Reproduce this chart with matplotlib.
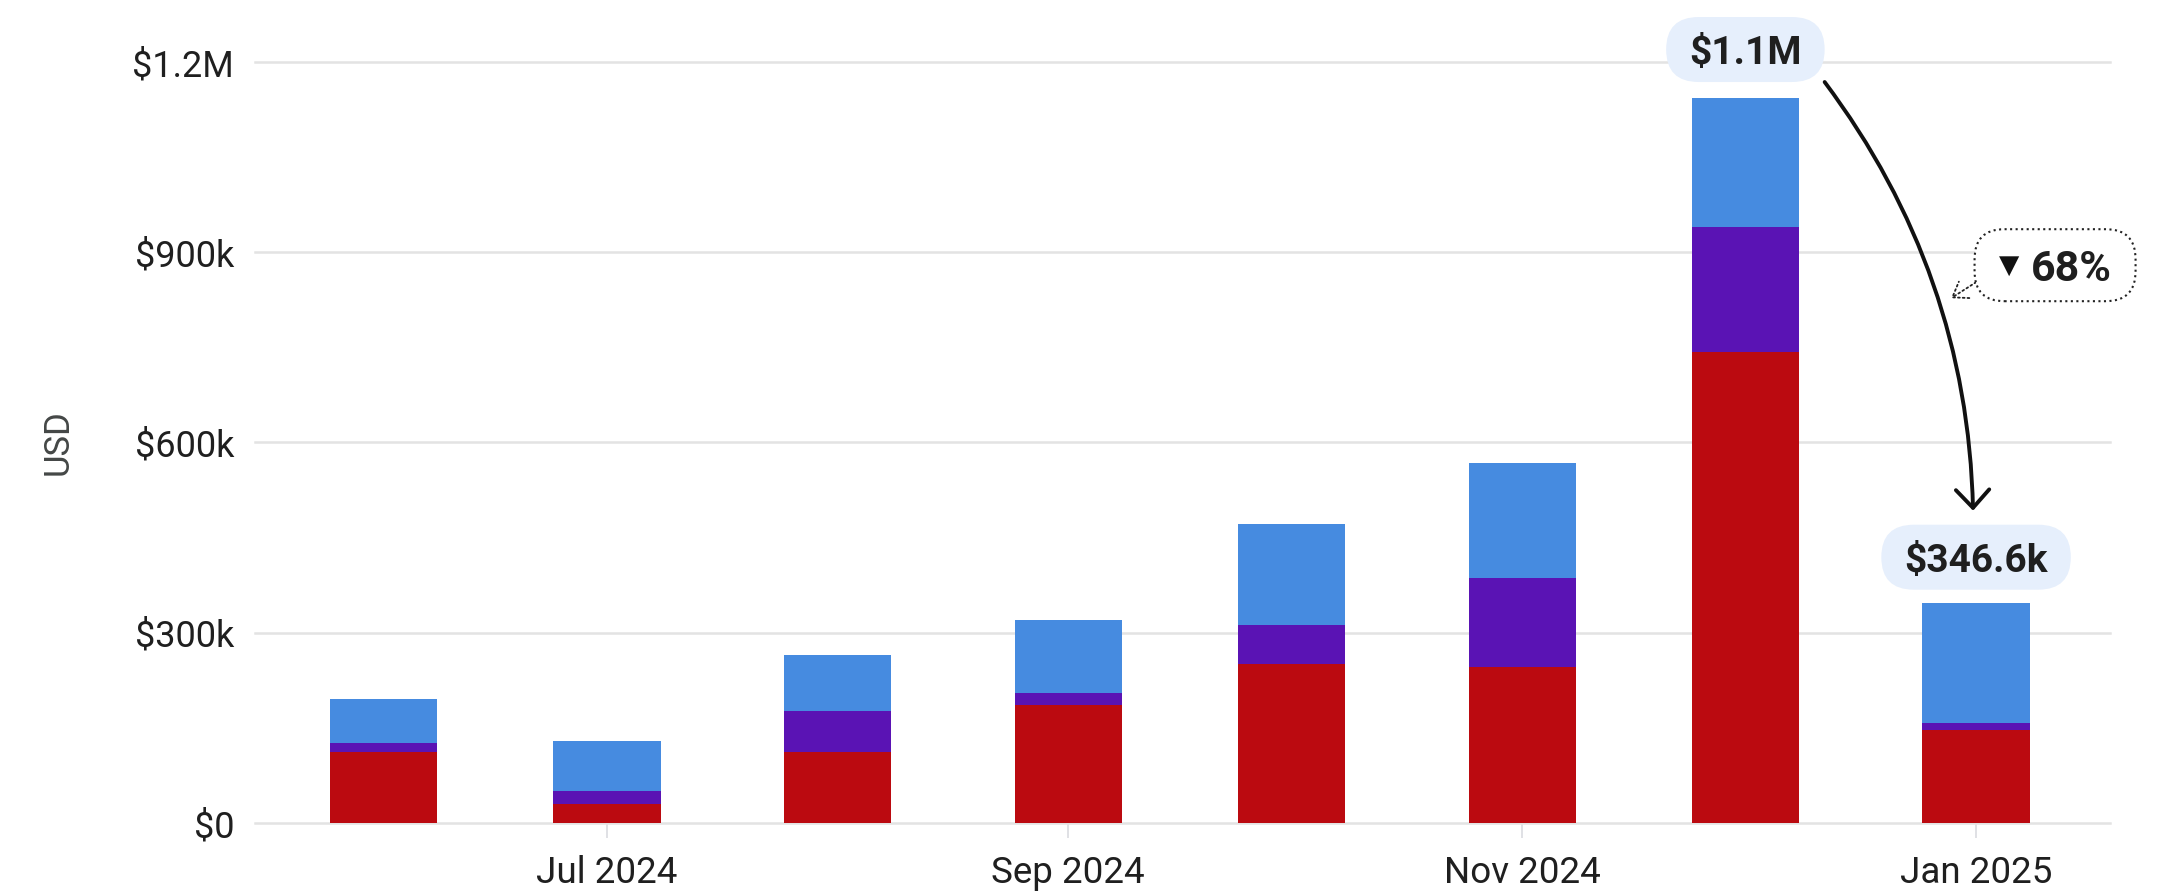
import matplotlib
matplotlib.use("Agg")
import matplotlib.pyplot as plt
import matplotlib.dates as mdates
from matplotlib.patches import FancyBboxPatch
from matplotlib.transforms import IdentityTransform
from datetime import datetime
import numpy as np

plt.rcParams['font.family'] = ['Roboto', 'DejaVu Sans']

# ---------------- data (USD, thousands) ----------------
months = ['2024-06-01', '2024-07-01', '2024-08-01', '2024-09-01',
          '2024-10-01', '2024-11-01', '2024-12-01', '2025-01-01']
red_k = [112, 30, 112, 186, 251, 246, 743, 147]
purple_k = [14, 21, 64, 19, 61, 140, 197, 10]
blue_k = [69, 78, 89, 115, 159, 182, 204, 189.6]

tick_months = ['2024-07-01', '2024-09-01', '2024-11-01', '2025-01-01']
tick_labels = ['Jul 2024', 'Sep 2024', 'Nov 2024', 'Jan 2025']
y_ticks = [0, 300000, 600000, 900000, 1200000]
y_tick_labels = ['$0', '$300k', '$600k', '$900k', '$1.2M']

peak_label = '$1.1M'
last_label = '$346.6k'
change_label = '68%'

RED = '#bb0a10'
PURPLE = '#5a13b4'
BLUE = '#468be0'
PILL = '#e6effc'
TXT = '#1f1f1f'

# ---------------- figure ----------------
W, H = 2159, 896
fig = plt.figure(figsize=(W / 100, H / 100), dpi=100)
ax = fig.add_axes([255 / W, 73 / H, 1855 / W, 761 / H])

x = mdates.date2num([datetime.strptime(m, '%Y-%m-%d') for m in months])
red = np.array(red_k) * 1000
purple = np.array(purple_k) * 1000
blue = np.array(blue_k) * 1000
total = red + purple + blue

bw = 14.4
ax.bar(x, red, width=bw, color=RED, zorder=2)
ax.bar(x, purple, width=bw, bottom=red, color=PURPLE, zorder=2)
ax.bar(x, blue, width=bw, bottom=red + purple, color=BLUE, zorder=2)

ax.set_xlim(x[0] - 17.3, x[-1] + 18)
ax.set_ylim(0, 1200000)

ax.set_yticks(y_ticks)
ax.set_yticklabels(y_tick_labels)
ax.set_xticks(mdates.date2num([datetime.strptime(m, '%Y-%m-%d') for m in tick_months]))
ax.set_xticklabels(tick_labels)

ax.grid(axis='y', color='#e3e3e3', lw=1.8, zorder=0)
ax.grid(axis='x', visible=False)
ax.set_axisbelow(True)
for gl in ax.get_ygridlines():
    gl.set_clip_on(False)
for s in ax.spines.values():
    s.set_visible(False)

ax.tick_params(axis='y', length=0, pad=15, labelsize=26, labelcolor=TXT)
ax.tick_params(axis='x', length=10.8, width=1.2, color='#dadce0', pad=12,
               labelsize=26.5, labelcolor=TXT)
ax.set_ylabel('USD', fontsize=25, color='#444746')
ax.yaxis.set_label_coords(-0.097, 0.5007)

# ---------------- annotations ----------------
renderer = fig.canvas.get_renderer()
ident = IdentityTransform()


def pill(cx, cy, text, height=65, hpad=23):
    t = fig.text(cx, cy - 4, text, transform=ident, ha='center', va='center',
                 fontsize=28, fontweight='bold', color=TXT, zorder=6)
    bb = t.get_window_extent(renderer)
    w = bb.width + 2 * hpad
    p = FancyBboxPatch((cx - w / 2, cy - height / 2), w, height,
                       boxstyle=f'round,pad=0,rounding_size={height / 2}',
                       transform=ident, fc=PILL, ec='none', zorder=5)
    fig.add_artist(p)
    return w, height


px1, py1 = ax.transData.transform((x[6], total[6]))
cx1, cy1 = px1, py1 + 48
w1, h1 = pill(cx1, cy1, peak_label)

px2, py2 = ax.transData.transform((x[7], total[7]))
cx2, cy2 = px2, py2 + 46
w2, h2 = pill(cx2, cy2, last_label)

# main curved arrow
start = (cx1 + w1 / 2, cy1 - h1 / 2)
end = (cx2 - 3, cy2 + h2 / 2 + 14)
ax.annotate('', xy=end, xycoords='figure pixels', xytext=start,
            textcoords='figure pixels', annotation_clip=False,
            arrowprops=dict(arrowstyle='->,head_length=0.65,head_width=0.6',
                            connectionstyle='arc3,rad=-0.16', lw=2.8,
                            color='#111111', shrinkA=0, shrinkB=0,
                            mutation_scale=20))

# change box
bx, by = cx2 + 79, cy2 + 292
bwid, bht = 161, 72
box = FancyBboxPatch((bx - bwid / 2, by - bht / 2), bwid, bht,
                     boxstyle='round,pad=0,rounding_size=30', transform=ident,
                     fc='white', ec='#222222', lw=1.5, ls=':', zorder=5)
fig.add_artist(box)
fig.text(bx - 46, by - 1, '▼', transform=ident, ha='center', va='center',
         fontsize=19, color='#111111', family='DejaVu Sans', zorder=6)
fig.text(bx + 16, by - 4, change_label, transform=ident, ha='center', va='center',
         fontsize=31, fontweight='bold', color=TXT, zorder=6)

ax.annotate('', xy=(bx - 104, by - 33), xycoords='figure pixels',
            xytext=(bx - 79, by - 17), textcoords='figure pixels',
            annotation_clip=False,
            arrowprops=dict(arrowstyle='->,head_length=0.5,head_width=0.35',
                            lw=1.3, ls=':', color='#222222',
                            shrinkA=0, shrinkB=0, mutation_scale=20))

fig.savefig('out.png', dpi=100)
